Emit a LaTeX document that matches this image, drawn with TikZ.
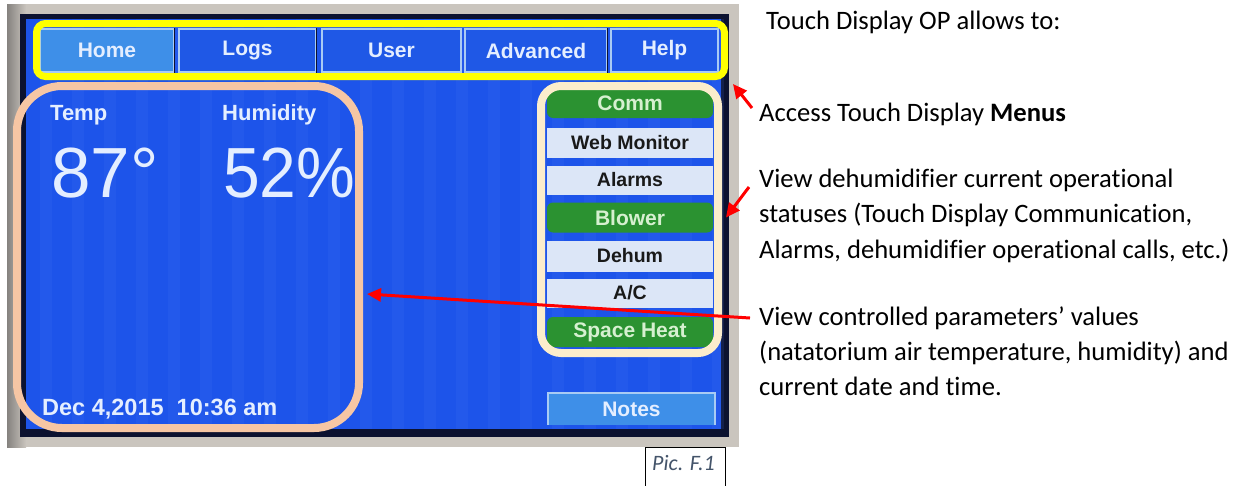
\documentclass[tikz,border=0pt]{standalone}
\usepackage{fontspec}
\setmainfont{Carlito}[Ligatures=NoCommon]
\newfontfamily\scr{Liberation Sans}
\usetikzlibrary{arrows.meta,calc}
\definecolor{bezel}{HTML}{CAC5BE}
\definecolor{bezeldark}{HTML}{85827F}
\definecolor{framedark}{HTML}{0C1230}
\definecolor{screen}{HTML}{1D54EA}
\definecolor{stripe}{HTML}{4A7CF6}
\definecolor{tabblue}{HTML}{1F58E6}
\definecolor{tablight}{HTML}{3E8FE8}
\definecolor{tabedge}{HTML}{A9CBF4}
\definecolor{scrtext}{HTML}{E4EEFF}
\definecolor{hiyellow}{HTML}{FFFF00}
\definecolor{peach}{HTML}{F6C6A4}
\definecolor{cream}{HTML}{FBEDCC}
\definecolor{btngreen}{HTML}{2B9231}
\definecolor{btngreentext}{HTML}{D6F0D0}
\definecolor{btnlight}{HTML}{DCE6F7}
\definecolor{arrowred}{HTML}{FF0000}
\definecolor{captext}{HTML}{44546A}
\tikzset{
  tabbtn/.style={draw=tabedge, line width=1.2pt, fill=tabblue, minimum height=43pt,
    inner sep=0pt, font=\scr\bfseries\fontsize{21}{21}\selectfont, text=scrtext},
  gbtn/.style={fill=btngreen, rounded corners=6pt, minimum width=166pt, inner sep=0pt,
    font=\scr\bfseries\fontsize{21}{21}\selectfont, text=btngreentext},
  lbtn/.style={fill=btnlight, minimum width=166pt, inner sep=0pt,
    font=\scr\bfseries\fontsize{19.5}{19.5}\selectfont, text=black!90},
  scrlabel/.style={anchor=base west, inner sep=0pt, text=scrtext},
  callout/.style={draw=arrowred, line width=3pt, -{Triangle[length=14pt,width=13pt]}},
  note/.style={anchor=base west, inner sep=0pt, font=\fontsize{26.6}{35.5}\selectfont},
  hilite/.style={draw, line width=8pt},
}
\begin{document}
\begin{tikzpicture}[x=1pt,y=-1pt]
\useasboundingbox (0,0) rectangle (1239,485);
% device bezel and screen
\fill[bezel] (7,4) rectangle (739,447);
\shade[left color=bezeldark, right color=bezel] (7,4) rectangle (26,447);
\fill[framedark] (20,14) rectangle (729,437);
\fill[screen] (26,19) rectangle (721,429);
\foreach \sx in {40,72,...,712}
  \fill[stripe, opacity=0.14] (\sx,19) rectangle ++(12,410);
% top menu tabs
\node[tabbtn, fill=tablight, minimum width=134pt] (home) at (107,50.5) {Home};
\node[tabbtn, minimum width=137pt] (logs) at (247.5,50.5) {Logs};
\node[tabbtn, minimum width=139pt] (user) at (391.5,50.5) {User};
\node[tabbtn, minimum width=142pt] (adv) at (536,50.5) {Advanced};
\node[tabbtn, minimum width=107pt] (help) at (664.5,50.5) {Help};
\draw[framedark, line width=1.5pt] (logs.north east) -- (logs.south east);
\draw[framedark, line width=1.5pt] (home.north east) -- (home.south east);
\draw[framedark, line width=1.5pt] (adv.north east) -- (adv.south east);
% readings
\node[scrlabel, font=\scr\bfseries\fontsize{22}{22}\selectfont] (temp) at (50,120) {Temp};
\node[scrlabel, font=\scr\bfseries\fontsize{22}{22}\selectfont] (hum) at (222,120) {Humidity};
\node[scrlabel, font=\scr\fontsize{71}{71}\selectfont] (tval) at (51,197) {87°};
\node[scrlabel, font=\scr\fontsize{71}{71}\selectfont, xscale=0.93] (hval) at (223,197) {52\%};
\node[scrlabel, font=\scr\bfseries\fontsize{23.5}{23.5}\selectfont] (date) at (42,415) {Dec 4,2015\ \ 10:36 am};
% status buttons
\node[gbtn, minimum height=30pt] (comm) at (630,103) {Comm};
\node[lbtn, minimum height=30pt] (web) at (630,142.5) {Web Monitor};
\node[lbtn, minimum height=29pt] (alarms) at (630,180) {Alarms};
\node[gbtn, minimum height=30pt] (blower) at (630,217.5) {Blower};
\node[lbtn, minimum height=31pt] (dehum) at (630,256) {Dehum};
\node[lbtn, minimum height=29pt] (ac) at (630,293) {A/C};
\node[gbtn, minimum height=30pt] (heat) at (630,332) {Space Heat};
% notes button
\node[fill=tablight, minimum width=167pt, minimum height=32pt, inner sep=0pt,
  font=\scr\bfseries\fontsize{21}{21}\selectfont, text=scrtext] (notes) at (631.5,409) {Notes};
\draw[tabedge, line width=1.5pt] (notes.south west) -- (notes.north west) -- (notes.north east) -- (notes.south east);
% highlight frames
\node[hilite, draw=hiyellow, line width=7pt, rounded corners=9pt, minimum width=688pt,
  minimum height=53pt, inner sep=0pt] (ybox) at (380.5,50) {};
\node[hilite, draw=peach, rounded corners=45pt, minimum width=342pt,
  minimum height=342pt, inner sep=0pt] (tan) at (188,257) {};
\node[hilite, draw=cream, rounded corners=20pt, minimum width=177pt,
  minimum height=267pt, inner sep=0pt] (crm) at (629.5,219.5) {};
% texts on the right
\node[note] (t0) at (766,29) {Touch Display OP allows to:};
\node[note] (t1) at (759,121) {Access Touch Display \textbf{Menus}};
\node[note] (t2a) at (759,187) {View dehumidifier current operational};
\node[note] (t2b) at (759,222.5) {statuses (Touch Display Communication,};
\node[note] (t2c) at (759,258) {Alarms, dehumidifier operational calls, etc.)};
\node[note] (t3a) at (759,325) {View controlled parameters’ values};
\node[note] (t3b) at (759,360) {(natatorium air temperature, humidity) and};
\node[note] (t3c) at (759,395) {current date and time.};
% callout arrows
\coordinate (a1) at (752,108);
\coordinate (a2) at (749,187);
\coordinate (a3) at (750,318);
\draw[callout] (a1) -- ($(ybox.south east)+(5,4)$);
\draw[callout] (a2) -- ($(crm.east)+(4,-2)$);
\draw[callout] (a3) -- ($(tan.east)+(4,37)$);
% caption box
\node[draw=black, line width=1.3pt, minimum width=80pt, minimum height=50pt,
  anchor=north west, inner sep=0pt] (picbox) at (645,447) {};
\node[anchor=base west, inner sep=0pt, text=captext,
  font=\itshape\fontsize{22}{22}\selectfont] (piclabel) at (652,470) {Pic. F.1};
\end{tikzpicture}
\end{document}
